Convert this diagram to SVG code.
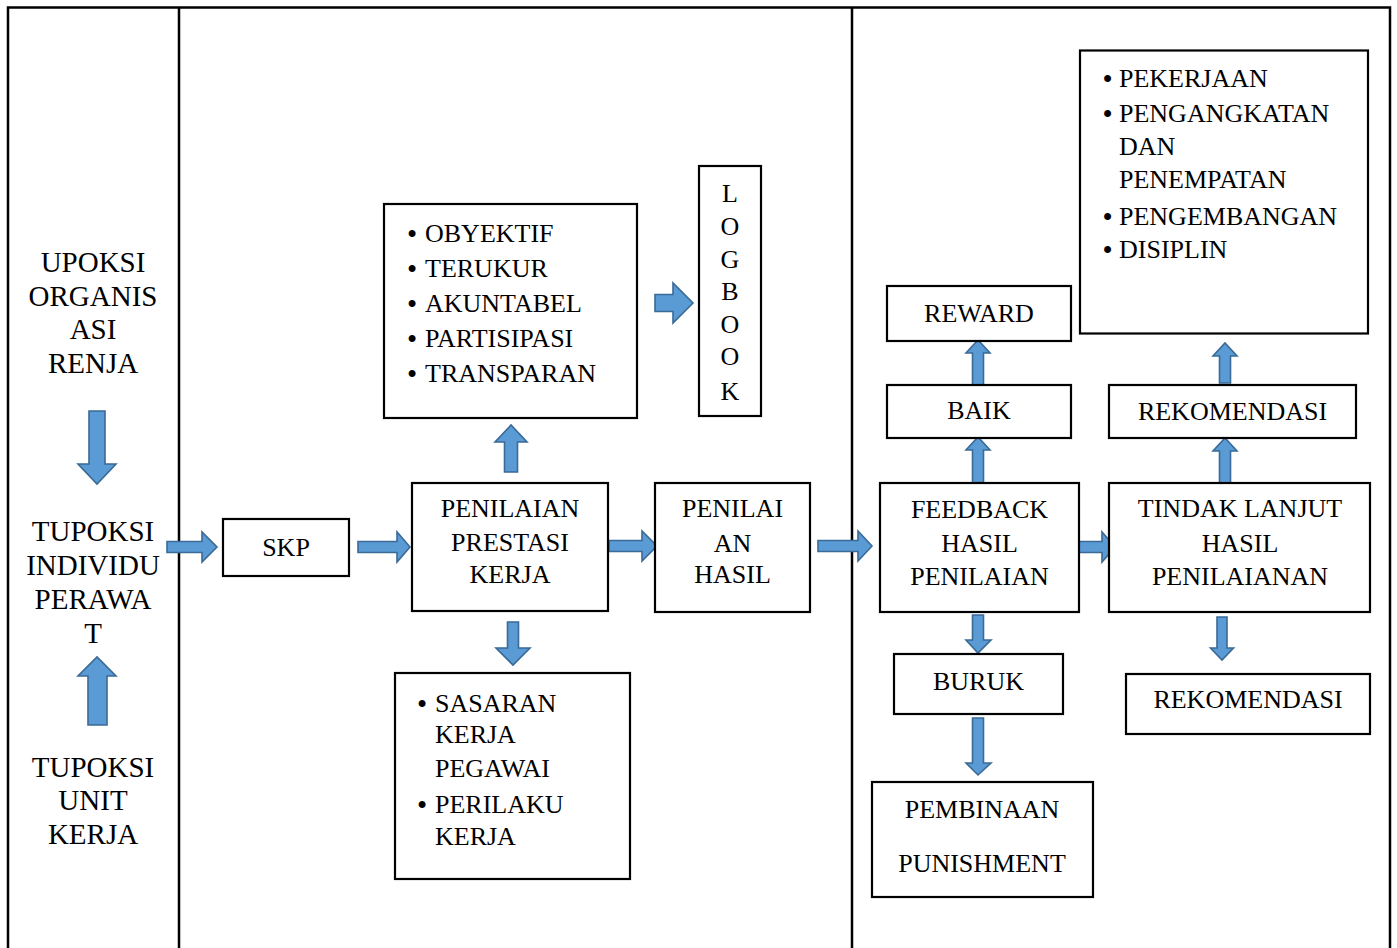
<svg xmlns="http://www.w3.org/2000/svg" width="1397" height="948" viewBox="0 0 1397 948">
<style>
.frame{stroke:#000;stroke-width:2.5;fill:none}
.box{fill:#fff;stroke:#000;stroke-width:2.2}
.t{font-family:"Liberation Serif","Times New Roman",serif;font-size:26px;fill:#000;text-anchor:middle}
.tl{font-family:"Liberation Serif","Times New Roman",serif;font-size:26px;fill:#000}
.big{font-family:"Liberation Serif","Times New Roman",serif;font-size:29px;fill:#000;text-anchor:middle}
.bul{font-family:"Liberation Serif","Times New Roman",serif;font-size:29px;fill:#000;text-anchor:middle}
.arr{fill:#5b9bd5;stroke:#3a6a96;stroke-width:1.6;stroke-linejoin:miter}
</style>
<rect width="1397" height="948" fill="#fff"/>
<g id="frame">
<path class="frame" d="M8,948 V7.5 H1390 V948 M179,7.5 V948 M852,7.5 V948"/>
</g>
<g id="connectors">
<path class="arr" d="M89,411 H105 V464 H116 L97,484 L78,464 H89 Z"/>
<path class="arr" d="M88,725 V676 H78 L97,657 L116,676 H107 V725 Z"/>
<path class="arr" d="M167,541.5 H202 V532 L217,547 L202,562 V552.5 H167 Z"/>
<path class="arr" d="M358,541.5 H397 V532 L410,547 L397,562 V552.5 H358 Z"/>
<path class="arr" d="M609,540.5 H642 V531 L657,546 L642,561 V551.5 H609 Z"/>
<path class="arr" d="M818,540.5 H858 V531 L872,546 L858,561 V551.5 H818 Z"/>
<path class="arr" d="M1075,541.5 H1102 V532 L1115,547 L1102,562 V552.5 H1075 Z"/>
<path class="arr" d="M655,294.5 H673 V283 L693,303 L673,323 V311.5 H655 Z"/>
<path class="arr" d="M504.5,472 V442 H495 L511,425 L527,442 H517.5 V472 Z"/>
<path class="arr" d="M507.5,622 H518.5 V648 H530 L513,665 L496,648 H507.5 Z"/>
<path class="arr" d="M972.5,483 V450 H966 L978,437 L990,450 H983.5 V483 Z"/>
<path class="arr" d="M972.5,386 V353 H966 L978,340 L990,353 H983.5 V386 Z"/>
<path class="arr" d="M972.5,615 H983.5 V640 H991 L978,653 L966,640 H972.5 Z"/>
<path class="arr" d="M972.5,718 H983.5 V763 H991 L978,775 L966,763 H972.5 Z"/>
<path class="arr" d="M1219.5,483 V451 H1213 L1225,438 L1237,451 H1230.5 V483 Z"/>
<path class="arr" d="M1219.5,383 V356 H1213 L1225,343 L1237,356 H1230.5 V383 Z"/>
<path class="arr" d="M1217,617 H1227 V648 H1233.5 L1222,660 L1210.5,648 H1217 Z"/>
</g>
<g id="upoksi">
<text class="big" x="93" y="272">UPOKSI</text>
<text class="big" x="93" y="305.5">ORGANIS</text>
<text class="big" x="93" y="339">ASI</text>
<text class="big" x="93" y="372.5">RENJA</text>
</g>
<g id="tupoksi-individu">
<text class="big" x="93" y="541">TUPOKSI</text>
<text class="big" x="93" y="575">INDIVIDU</text>
<text class="big" x="93" y="609">PERAWA</text>
<text class="big" x="93" y="643">T</text>
</g>
<g id="tupoksi-unit">
<text class="big" x="93" y="777">TUPOKSI</text>
<text class="big" x="93" y="810">UNIT</text>
<text class="big" x="93" y="844">KERJA</text>
</g>
<g id="skp">
<rect class="box" x="223" y="519" width="126" height="57"/>
<text class="t" x="286" y="556">SKP</text>
</g>
<g id="penilaian-prestasi">
<rect class="box" x="412" y="483" width="196" height="128"/>
<text class="t" x="510" y="517">PENILAIAN</text>
<text class="t" x="510" y="551">PRESTASI</text>
<text class="t" x="510" y="583">KERJA</text>
</g>
<g id="penilaian-hasil">
<rect class="box" x="655" y="483" width="155" height="129"/>
<text class="t" x="732.5" y="517">PENILAI</text>
<text class="t" x="732.5" y="552">AN</text>
<text class="t" x="732.5" y="583">HASIL</text>
</g>
<g id="prinsip">
<rect class="box" x="384" y="204" width="253" height="214"/>
<text class="bul" x="412" y="244">•</text><text class="tl" x="425" y="242">OBYEKTIF</text>
<text class="bul" x="412" y="279">•</text><text class="tl" x="425" y="277">TERUKUR</text>
<text class="bul" x="412" y="314">•</text><text class="tl" x="425" y="312">AKUNTABEL</text>
<text class="bul" x="412" y="349">•</text><text class="tl" x="425" y="347">PARTISIPASI</text>
<text class="bul" x="412" y="384">•</text><text class="tl" x="425" y="382">TRANSPARAN</text>
</g>
<g id="logbook">
<rect class="box" x="699" y="166" width="62" height="250"/>
<text class="t" x="730" y="202">L</text>
<text class="t" x="730" y="235">O</text>
<text class="t" x="730" y="268">G</text>
<text class="t" x="730" y="300">B</text>
<text class="t" x="730" y="333">O</text>
<text class="t" x="730" y="365">O</text>
<text class="t" x="730" y="400">K</text>
</g>
<g id="sasaran">
<rect class="box" x="395" y="673" width="235" height="206"/>
<text class="bul" x="422" y="714">•</text><text class="tl" x="435" y="712">SASARAN</text>
<text class="tl" x="435" y="743">KERJA</text>
<text class="tl" x="435" y="777">PEGAWAI</text>
<text class="bul" x="422" y="815">•</text><text class="tl" x="435" y="813">PERILAKU</text>
<text class="tl" x="435" y="845">KERJA</text>
</g>
<g id="feedback">
<rect class="box" x="880" y="483" width="199" height="129"/>
<text class="t" x="979.5" y="518">FEEDBACK</text>
<text class="t" x="979.5" y="552">HASIL</text>
<text class="t" x="979.5" y="585">PENILAIAN</text>
</g>
<g id="baik">
<rect class="box" x="887" y="385" width="184" height="53"/>
<text class="t" x="979" y="419">BAIK</text>
</g>
<g id="reward">
<rect class="box" x="887" y="286" width="184" height="55"/>
<text class="t" x="979" y="322">REWARD</text>
</g>
<g id="buruk">
<rect class="box" x="894" y="654" width="169" height="60"/>
<text class="t" x="978.5" y="690">BURUK</text>
</g>
<g id="pembinaan">
<rect class="box" x="872" y="782" width="221" height="115"/>
<text class="t" x="982" y="818">PEMBINAAN</text>
<text class="t" x="982" y="872">PUNISHMENT</text>
</g>
<g id="tindak-lanjut">
<rect class="box" x="1109" y="483" width="261" height="129"/>
<text class="t" x="1240" y="517">TINDAK LANJUT</text>
<text class="t" x="1240" y="552">HASIL</text>
<text class="t" x="1240" y="585">PENILAIANAN</text>
</g>
<g id="rekomendasi-atas">
<rect class="box" x="1109" y="385" width="247" height="53"/>
<text class="t" x="1232.5" y="420">REKOMENDASI</text>
</g>
<g id="rekomendasi-bawah">
<rect class="box" x="1126" y="674" width="244" height="60"/>
<text class="t" x="1248" y="708">REKOMENDASI</text>
</g>
<g id="tindakan">
<rect class="box" x="1080" y="50.5" width="288" height="283"/>
<text class="bul" x="1107.5" y="89">•</text><text class="tl" x="1119" y="87">PEKERJAAN</text>
<text class="bul" x="1107.5" y="124">•</text><text class="tl" x="1119" y="122">PENGANGKATAN</text>
<text class="tl" x="1119" y="155">DAN</text>
<text class="tl" x="1119" y="188">PENEMPATAN</text>
<text class="bul" x="1107.5" y="227">•</text><text class="tl" x="1119" y="225">PENGEMBANGAN</text>
<text class="bul" x="1107.5" y="260">•</text><text class="tl" x="1119" y="258">DISIPLIN</text>
</g>
</svg>
